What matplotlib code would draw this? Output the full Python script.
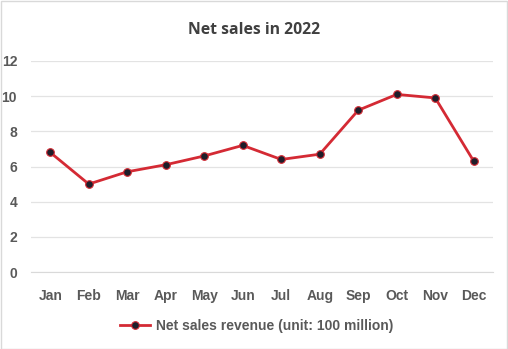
import matplotlib
matplotlib.use("Agg")
import matplotlib.pyplot as plt
from matplotlib.patches import Rectangle

months = ["Jan", "Feb", "Mar", "Apr", "May", "Jun",
          "Jul", "Aug", "Sep", "Oct", "Nov", "Dec"]
revenue = [6.8, 5.0, 5.7, 6.1, 6.6, 7.2, 6.4, 6.7, 9.2, 10.1, 9.9, 6.3]
y_ticks = [0, 2, 4, 6, 8, 10, 12]

fig = plt.figure(figsize=(5.08, 3.49), dpi=100)
W, H = 508, 349
ax = fig.add_axes([31 / W, 1 - 272 / H, (493 - 31) / W, (272 - 61) / H])

# outer chart border
fig.patches.append(Rectangle((0.5 / W, 0.5 / H), 1 - 1.5 / W, 1 - 1.5 / H,
                             transform=fig.transFigure, fill=False,
                             edgecolor="#d9d9d9", linewidth=1))

x = list(range(len(months)))
ax.plot(x, revenue, color="#d42a34", linewidth=2.0, marker="o",
        markersize=5.5, markerfacecolor="#1e1e2a", markeredgecolor="#d42a34",
        markeredgewidth=0.8, label="Net sales revenue (unit: 100 million)",
        zorder=3)

ax.set_xlim(-0.5, 11.5)
ax.set_ylim(0, 12)
ax.set_yticks(y_ticks)
ax.set_xticks(x)
ax.set_xticklabels(months)

for s in ["top", "right", "left"]:
    ax.spines[s].set_visible(False)
ax.spines["bottom"].set_color("#d9d9d9")
ax.grid(axis="y", color="#e3e3e3", linewidth=0.9)
ax.set_axisbelow(True)
ax.tick_params(length=0, labelcolor="#595959")
ax.tick_params(axis="x", pad=12)
ax.tick_params(axis="y", pad=10)
for lbl in ax.get_xticklabels() + ax.get_yticklabels():
    lbl.set_fontfamily("Liberation Sans")
    lbl.set_fontweight("bold")
    lbl.set_fontsize(10)

fig.text(0.5, 1 - 30 / H, "Net sales in 2022", ha="center", va="center",
         fontsize=11.3, fontweight="bold", color="#404040", family="Open Sans")

leg = fig.legend(loc="center", bbox_to_anchor=(0.505, 1 - 326 / H), frameon=False,
                 prop={"family": "Liberation Sans", "weight": "bold", "size": 10},
                 handlelength=2.2, handletextpad=0.4)
for t in leg.get_texts():
    t.set_color("#595959")

fig.savefig("out.png", dpi=100)
